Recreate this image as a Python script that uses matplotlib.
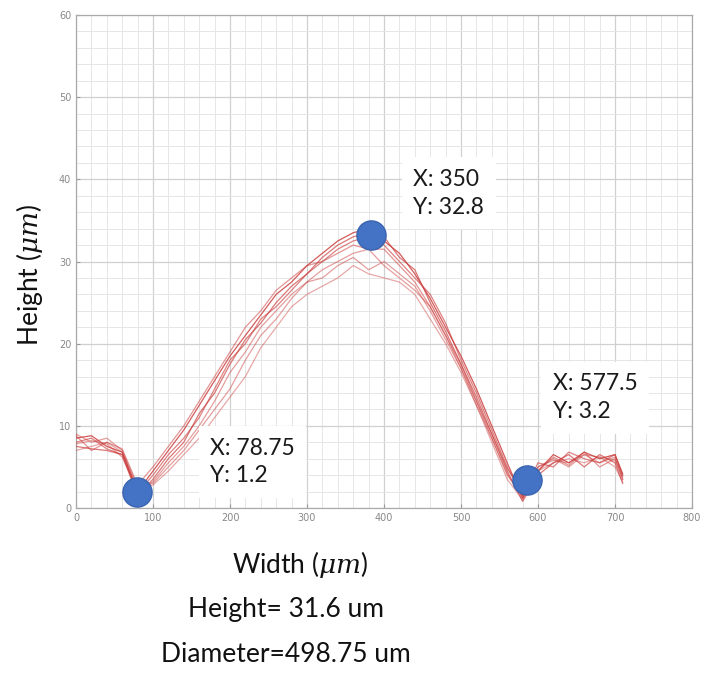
import matplotlib
matplotlib.use("Agg")
import matplotlib.pyplot as plt
from matplotlib.ticker import MultipleLocator

# sample positions along the width (um)
width = [0, 20, 40, 60, 80, 100, 120, 140, 160, 180, 200, 220, 240, 260, 280, 300, 320, 340,
         360, 380, 400, 420, 440, 460, 480, 500, 520, 540, 560, 580, 600, 620, 640, 660, 680, 700, 710]

# height profiles (um), one per scan
scan_a = [8.5, 8.8, 7.5, 6.8, 2.0, 4.5, 7.0, 9.5, 12.5, 15.5, 18.5, 21.0, 23.5, 26.0, 27.5, 29.5, 31.0, 32.5,
          33.5, 34.0, 32.5, 31.0, 28.5, 25.5, 22.0, 18.5, 14.5, 10.0, 5.5, 1.2, 4.5, 6.5, 5.5, 6.8, 6.0, 6.5, 4.0]
scan_b = [7.5, 7.2, 7.0, 6.5, 1.5, 3.5, 6.0, 8.0, 11.5, 14.0, 17.5, 20.5, 22.5, 25.0, 27.0, 28.5, 30.5, 32.0,
          33.0, 33.5, 33.0, 30.5, 29.0, 25.0, 21.5, 17.5, 13.5, 9.0, 4.5, 0.8, 4.0, 5.5, 6.5, 5.0, 6.5, 5.5, 3.0]
scan_c = [9.0, 8.0, 8.5, 7.0, 2.5, 3.0, 5.0, 7.0, 9.5, 12.0, 14.5, 18.0, 21.0, 23.0, 25.5, 27.5, 28.0, 29.5,
          30.5, 29.0, 30.0, 28.5, 27.0, 24.0, 20.5, 17.0, 13.0, 8.5, 4.0, 1.5, 5.0, 6.0, 5.0, 6.5, 5.5, 6.2, 3.5]
scan_d = [7.0, 7.5, 8.0, 6.8, 2.2, 2.8, 4.5, 6.5, 8.5, 11.0, 13.5, 16.0, 19.5, 22.0, 24.5, 26.0, 27.0, 28.0,
          29.5, 28.5, 28.0, 27.5, 26.0, 23.0, 20.0, 16.5, 12.5, 8.0, 3.5, 1.0, 4.5, 5.5, 6.0, 5.5, 6.2, 5.0, 3.2]
scan_e = [8.0, 8.5, 7.2, 6.5, 1.8, 4.0, 6.5, 8.5, 11.0, 14.5, 18.0, 20.0, 23.0, 24.5, 26.5, 28.5, 30.0, 31.5,
          32.5, 33.0, 32.0, 30.0, 28.0, 26.0, 22.5, 18.0, 14.0, 9.5, 5.0, 1.5, 5.5, 5.0, 6.8, 6.0, 5.5, 6.5, 4.2]
scan_f = [8.8, 7.0, 8.0, 7.2, 2.8, 5.0, 7.5, 10.0, 13.0, 16.0, 19.0, 22.0, 24.0, 26.5, 28.0, 29.5, 30.0, 31.0,
          32.0, 31.5, 31.5, 29.5, 27.5, 24.5, 21.0, 17.5, 13.0, 9.0, 4.8, 2.0, 4.5, 6.2, 5.2, 6.8, 5.0, 6.0, 3.8]
scan_g = [7.8, 8.2, 7.8, 6.2, 2.0, 3.2, 5.5, 7.5, 10.0, 13.0, 16.5, 19.0, 22.0, 24.0, 26.0, 27.5, 29.0, 30.0,
          31.0, 31.5, 29.5, 28.0, 26.5, 24.5, 21.0, 17.0, 12.5, 8.5, 4.2, 1.2, 5.0, 5.8, 5.5, 6.5, 6.2, 5.8, 3.5]
scans = [scan_a, scan_b, scan_c, scan_d, scan_e, scan_f, scan_g]
scan_alpha = [0.85, 0.7, 0.5, 0.45, 0.65, 0.55, 0.5]

# data tips
tip_x = [79, 383, 586]
tip_y = [2.0, 33.2, 3.4]
tip_labels = ["X: 78.75\nY: 1.2", "X: 350\nY: 32.8", "X: 577.5\nY: 3.2"]
tip_label_pos = [(174, 5.6), (438, 38.3), (619, 13.4)]

plt.rcParams['mathtext.fontset'] = 'dejavuserif'
txt_font = 'Lato'

fig = plt.figure(figsize=(7.04, 6.74), dpi=100)
ax = fig.add_axes([76 / 704, 1 - 508 / 674, 616 / 704, 493 / 674])

for ys, a in zip(scans, scan_alpha):
    ax.plot(width, ys, color='#cc3f3f', lw=0.9, alpha=a, zorder=3)

ax.set_xlim(0, 800)
ax.set_ylim(0, 60)
ax.xaxis.set_major_locator(MultipleLocator(100))
ax.xaxis.set_minor_locator(MultipleLocator(20))
ax.yaxis.set_major_locator(MultipleLocator(10))
ax.yaxis.set_minor_locator(MultipleLocator(2))
ax.grid(True, which='major', color='#d0d0d0', lw=0.9)
ax.grid(True, which='minor', color='#e6e6e6', lw=0.7)
ax.set_axisbelow(True)
ax.tick_params(which='both', direction='in', colors='#999999', labelcolor='#888888', labelsize=7)
ax.tick_params(which='major', length=3)
ax.tick_params(which='minor', length=0)
for s in ax.spines.values():
    s.set_color('#aaaaaa')
    s.set_linewidth(0.9)

for (lx, ly), lab in zip(tip_label_pos, tip_labels):
    ax.text(lx, ly, lab, fontsize=16.5, family=txt_font, color='#1a1a1a', ha='left', va='center',
            linespacing=1.4, zorder=4,
            bbox=dict(boxstyle='square,pad=0.5', fc='white', ec='none'))

ax.plot(tip_x, tip_y, 'o', ms=21, color='#4472c4', mec='#3a64b0', mew=1, zorder=5, clip_on=False)

fig.text(30 / 704, 1 - 275 / 674, r'Height ($\mu m$)', rotation=90, ha='center', va='center',
         fontsize=19, family=txt_font, color='#111111')
fig.text(300 / 704, 1 - 565 / 674, r'Width ($\mu m$)', ha='center', va='center',
         fontsize=19, family=txt_font, color='#111111')
fig.text(286 / 704, 1 - 610 / 674, 'Height= 31.6 um', ha='center', va='center',
         fontsize=19, family=txt_font, color='#111111')
fig.text(286 / 704, 1 - 655 / 674, 'Diameter=498.75 um', ha='center', va='center',
         fontsize=19, family=txt_font, color='#111111')

fig.savefig('out.png', dpi=100)
